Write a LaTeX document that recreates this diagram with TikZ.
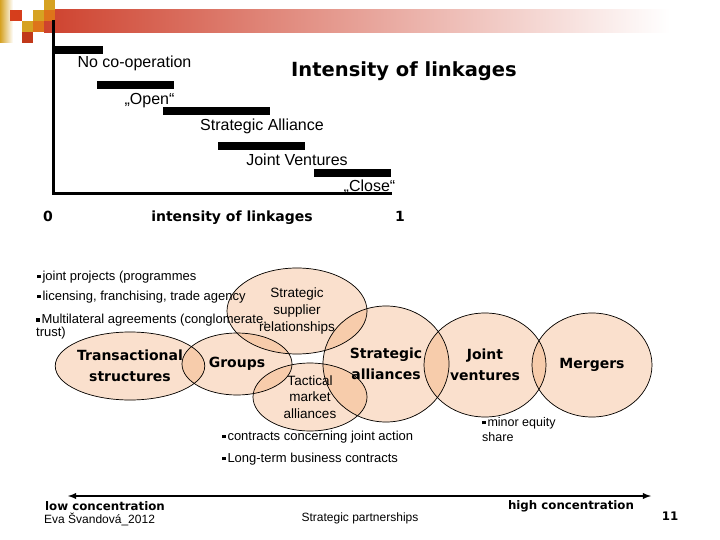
\documentclass[tikz,border=0pt]{standalone}
\usepackage{fontspec}
\setmainfont{Liberation Sans}
\newfontfamily\dejavu{DejaVu Sans}
\usepackage{tikz}
\usetikzlibrary{shapes,arrows,positioning,calc}
\pgfdeclarelayer{bg}
\pgfsetlayers{bg,main}

\definecolor{hdrred}{RGB}{206,66,46}
\definecolor{gold}{RGB}{214,162,34}
\definecolor{amber}{RGB}{222,116,26}
\definecolor{rust}{RGB}{214,62,28}
\definecolor{peach}{RGB}{240,160,100}
\newcommand{\sqbul}{\raisebox{2.2pt}{\rule{3.3pt}{3.3pt}}\hspace{2pt}}

\begin{document}
\begin{tikzpicture}[
			x = 1pt, y = -1pt,
			every node/.style = {inner sep = 0pt},
			bar/.style = {line width = 8pt},
			axis/.style = {line width = 3pt},
			lbl/.style = {font = \fontsize{16}{18}\selectfont, anchor = base},
			hd/.style = {font = \dejavu\bfseries\fontsize{14}{21}\selectfont},
			blob/.style = {ellipse, draw, line width = 0.7pt, align = center},
			thinblob/.style = {blob, font = \fontsize{13.5}{17}\selectfont},
			note/.style = {font = \fontsize{13}{13}\selectfont, anchor = west, align = left},
			small/.style = {font = \fontsize{12}{14}\selectfont}]

			\useasboundingbox (0,0) rectangle (720,540);

			% header
			\shade[left color = hdrred, right color = white] (44,10) rectangle (670,33);
			\shade[left color = gold, right color = white] (0,0) rectangle (13,43);
			\fill[rust] (10,10) rectangle (22,21);
			\fill[gold] (33,10) rectangle (44,21);
			\fill[gold] (44,0) rectangle (55,10);
			\fill[amber] (44,10) rectangle (55,21);
			\fill[gold] (22,21) rectangle (33,32);
			\fill[amber] (33,21) rectangle (44,32);
			\fill[rust!90!black] (22,32) rectangle (33,43);

			% intensity scale
			\coordinate (ytop) at (53,20);
			\coordinate (origin) at (53,194);
			\coordinate (xend) at (392,194);
			\draw[axis] (ytop) -- (origin) -- (xend);

			\draw[bar] (52,50) -- (103,50);
			\draw[bar] (97,85.5) -- (174,85.5);
			\draw[bar] (163,111) -- (270,111);
			\draw[bar] (218,146) -- (305,146);
			\draw[bar] (314,173) -- (391,173);

			\node[lbl] (nocoop) at (134.5,67.7) {No co-operation};
			\node[lbl] (open) at (149.5,105) {„Open“};
			\node[lbl] (salli) at (262,131) {Strategic Alliance};
			\node[lbl] (jvent) at (297,166) {Joint Ventures};
			\node[lbl] (close) at (369.5,191.5) {„Close“};

			\node[font = \dejavu\bfseries\fontsize{19.5}{22}\selectfont, anchor = base] (title) at (404,77) {Intensity of linkages};
			\node[hd, anchor = base] (zero) at (48,222) {0};
			\node[hd, anchor = base] (axlbl) at (232,222) {intensity of linkages};
			\node[hd, anchor = base] (one) at (400,222) {1};

			% forms of co-operation
			\node[blob, hd, minimum width = 146, minimum height = 68] (trans) at (130,366) {Transactional\\structures};
			\node[blob, hd, minimum width = 110, minimum height = 62] (groups) at (237,364) {Groups};
			\node[thinblob, minimum width = 140, minimum height = 86] (supplier) at (297,311) {Strategic\\supplier\\relationships};
			\node[thinblob, font = \fontsize{13.5}{16.5}\selectfont, minimum width = 114, minimum height = 68] (tactical) at (310,397) {Tactical\\market\\alliances};
			\node[blob, hd, minimum width = 126, minimum height = 116] (stratall) at (386,364) {Strategic\\alliances};
			\node[blob, hd, minimum width = 122, minimum height = 104] (jv) at (485,365) {Joint\\ventures};
			\node[blob, hd, minimum width = 120, minimum height = 104] (merg) at (592,365) {Mergers};

			\begin{pgfonlayer}{bg}
				\foreach \blobname in {trans,groups,supplier,tactical,stratall,jv,merg}
					\fill[peach, fill opacity = 0.32] let \p1 = ($(\blobname.east)-(\blobname.center)$), \p2 = ($(\blobname.north)-(\blobname.center)$) in
						(\blobname.center) ellipse [x radius = \x1, y radius = \y2];
			\end{pgfonlayer}

			\node[note] (jproj) at (37,277) {\sqbul joint projects (programmes};
			\node[note] (licen) at (37,297) {\sqbul licensing, franchising, trade agency};
			\node[note] (multi) at (36,327) {\sqbul Multilateral agreements (conglomerate,\\trust)};
			\node[note] (contr) at (222,437) {\sqbul contracts concerning joint action};
			\node[note] (longt) at (222,459) {\sqbul Long-term business contracts};
			\node[note, font = \fontsize{12.5}{15}\selectfont] (equity) at (482,429.5) {\sqbul minor equity\\share};

			% concentration
			\coordinate (lowend) at (68,496);
			\coordinate (highend) at (651,496);
			\draw[latex-latex, line width = 1.8pt] (lowend) -- (highend);
			\node[font = \dejavu\bfseries\fontsize{11.8}{13}\selectfont, anchor = west] (low) at (45,506) {low concentration};
			\node[font = \dejavu\bfseries\fontsize{11.8}{13}\selectfont] (high) at (571,506) {high concentration};
			\node[small, anchor = west] (author) at (44,519.5) {Eva Švandová\_2012};
			\node[small] (topic) at (360,518.5) {Strategic partnerships};
			\node[font = \dejavu\bfseries\fontsize{11.8}{13}\selectfont] (page) at (670,516) {11};

		\end{tikzpicture}
\end{document}
